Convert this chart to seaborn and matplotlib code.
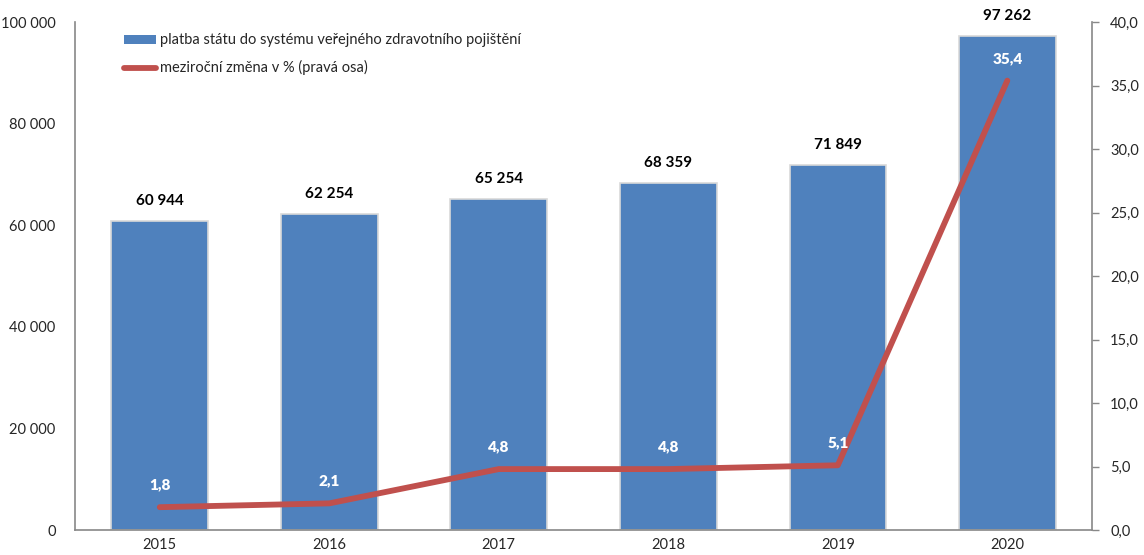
import numpy as np
import pandas as pd
import matplotlib.pyplot as plt
import seaborn as sns
from matplotlib.patches import Patch
from matplotlib.lines import Line2D

# data
roky = ['2015', '2016', '2017', '2018', '2019', '2020']
platba = [60944, 62254, 65254, 68359, 71849, 97262]
zmena = [1.8, 2.1, 4.8, 4.8, 5.1, 35.4]

df = pd.DataFrame({'rok': roky, 'platba': platba, 'zmena': zmena})

sns.set_style('white')
plt.rcParams['font.family'] = ['Lato', 'DejaVu Sans']

blue = '#4F81BD'
red = '#C0504D'
grey = '#888888'

fig = plt.figure(figsize=(11.44, 5.55), dpi=100)
ax = fig.add_axes([0.0656, 0.045, 0.889, 0.915])

sns.barplot(data=df, x='rok', y='platba', color=blue, width=0.57,
            edgecolor='#d9d9d9', linewidth=1.2, saturation=1, ax=ax)
ax.set_ylim(0, 100000)
ax.set_yticks(np.arange(0, 100001, 20000))
ax.set_yticklabels([f'{int(v):,}'.replace(',', ' ') for v in ax.get_yticks()],
                   fontsize=10.5)
ax.set_xlabel('')
ax.set_ylabel('')
ax.tick_params(axis='x', length=0, labelsize=10.5, pad=6)
ax.tick_params(axis='y', length=0, pad=14)

# popisky hodnot nad sloupci
for i, v in enumerate(platba):
    ax.text(i, v + 3900, f'{v:,}'.replace(',', ' '), ha='center', va='center',
            fontsize=11, fontweight='bold', color='black')

for s in ['top', 'right']:
    ax.spines[s].set_visible(False)
for s in ['left', 'bottom']:
    ax.spines[s].set_color(grey)
    ax.spines[s].set_linewidth(1.2)

# prava osa
ax2 = ax.twinx()
sns.lineplot(x=np.arange(len(roky)), y=zmena, color=red, linewidth=4.2,
             sort=False, ax=ax2)
ax2.set_ylim(0, 40)
ax2.set_yticks(np.arange(0, 40.1, 5))
ax2.set_yticklabels([f'{v:.1f}'.replace('.', ',') for v in ax2.get_yticks()],
                    fontsize=10.5)
ax2.tick_params(axis='y', direction='out', length=5, color=grey, width=1, pad=8)
for s in ['top', 'left', 'bottom']:
    ax2.spines[s].set_visible(False)
ax2.spines['right'].set_color(grey)
ax2.spines['right'].set_linewidth(1.2)
ax.set_xlim(-0.5, len(roky) - 0.5)

for i, v in enumerate(zmena):
    ax2.text(i, v + 1.75, f'{v:.1f}'.replace('.', ','), ha='center', va='center',
             fontsize=11, fontweight='heavy', color='white')

handles = [Patch(facecolor=blue, edgecolor='none'),
           Line2D([0], [0], color=red, linewidth=4.2, solid_capstyle='round')]
labels = ['platba státu do systému veřejného zdravotního pojištění',
          'meziroční změna v % (pravá osa)']
ax.legend(handles, labels, loc='upper left', bbox_to_anchor=(0.035, 1.004),
          frameon=False, fontsize=10.5, handlelength=2.2, handleheight=0.6,
          handletextpad=0.3, labelspacing=0.9)

fig.savefig('out.png', dpi=100)
